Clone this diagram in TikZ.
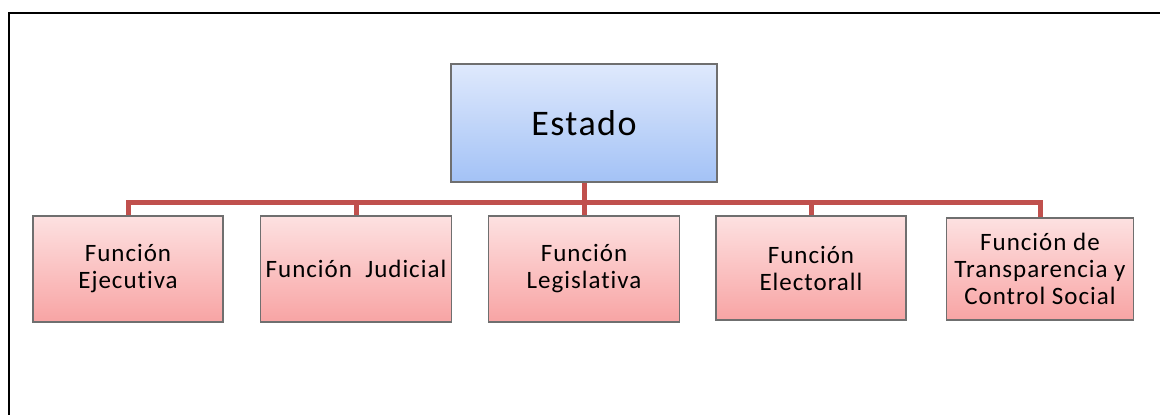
\documentclass[tikz,border=0pt]{standalone}
\usepackage{fontspec}
\setmainfont{Carlito}[Ligatures=NoCommon]
\definecolor{conncol}{HTML}{C0504D}
\definecolor{bluetop}{HTML}{DFE9FC}
\definecolor{bluebot}{HTML}{A3C2F6}
\definecolor{redtop}{HTML}{FDE1E1}
\definecolor{redbot}{HTML}{F8A4A4}
\definecolor{boxedge}{HTML}{6F6F6F}
\begin{document}
\begin{tikzpicture}[x=1pt,y=-1pt,
  topbox/.style={draw=boxedge, line width=1.2pt, top color=bluetop, bottom color=bluebot,
    minimum width=266pt, minimum height=118pt, inner sep=0pt,
    font=\fontsize{36}{38}\selectfont\addfontfeatures{LetterSpace=4}},
  funcbox/.style={draw=boxedge, line width=1.2pt, top color=redtop, bottom color=redbot,
    minimum height=106pt, inner sep=0pt, align=center,
    font=\fontsize{25}{27}\selectfont\addfontfeatures{LetterSpace=4}},
  conn/.style={draw=conncol, line width=5pt}]
\useasboundingbox (0,0) rectangle (1160,415);
\fill[white] (0,0) rectangle (1160,415);
\draw[line width=2.5pt, black] (9,416) -- (9,13) -- (1162,13);

\node[topbox] (estado) at (584,123) {Estado};
\node[funcbox, minimum width=190pt] (f1) at (128,269) {Función\\Ejecutiva};
\node[funcbox, minimum width=191pt] (f2) at (356,269) {Función \ Judicial};
\node[funcbox, minimum width=191pt] (f3) at (584,269) {Función\\Legislativa};
\node[funcbox, minimum width=190pt, minimum height=104pt] (f4) at (811,268) {Función\\Electorall};
\node[funcbox, minimum width=187pt, minimum height=102pt] (f5) at (1040,269) {Función de\\Transparencia y\\Control Social};

\coordinate (bar) at (584,202);
\draw[conn] (estado.south) -- (f3.north);
\draw[conn] (estado.south |- bar) -| (f1.north);
\draw[conn] (estado.south |- bar) -| (f2.north);
\draw[conn] (estado.south |- bar) -| (f4.north);
\draw[conn] (estado.south |- bar) -| (f5.north);
\end{tikzpicture}
\end{document}
